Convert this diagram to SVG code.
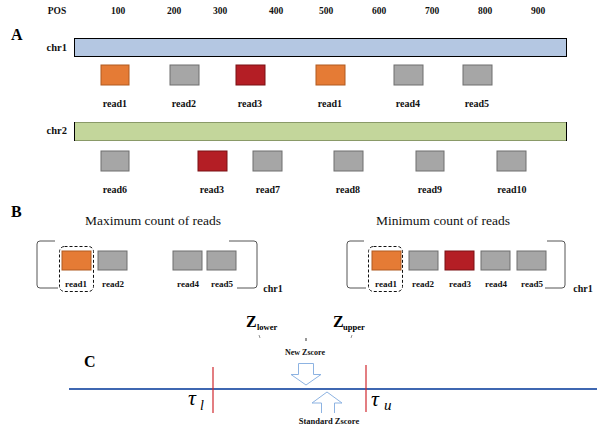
<svg xmlns="http://www.w3.org/2000/svg" width="607" height="433" viewBox="0 0 607 433">
<style>
text{font-family:"Liberation Serif","Times New Roman","DejaVu Serif",serif}
.lbl{font-weight:bold;font-size:10px;fill:#111;text-anchor:middle}
.pos{font-weight:bold;font-size:9.5px;fill:#111;text-anchor:middle}
.sec{font-weight:bold;font-size:16px;fill:#000}
.chr{font-weight:bold;font-size:10.5px;fill:#111;text-anchor:end}
.title{font-size:13.5px;fill:#111;text-anchor:middle}
.small{font-weight:bold;font-size:8.5px;fill:#111;text-anchor:middle}
.grey{fill:#A6A6A6;stroke:#6E6E6E;stroke-width:1}
.orange{fill:#E57B35;stroke:#B05A20;stroke-width:1}
.red{fill:#B41E25;stroke:#7A1015;stroke-width:1}
.brk{fill:none;stroke:#555;stroke-width:1}
.dash{fill:none;stroke:#111;stroke-width:1;stroke-dasharray:3,2}
.harrow{fill:#fff;stroke:#8DB3E2;stroke-width:1}
.math{fill:#000}
</style>

<g id="sectionA">
  <text class="sec" x="11" y="40">A</text>
  <text class="pos" x="57" y="14">POS</text>
  <text class="pos" x="118" y="14">100</text>
  <text class="pos" x="174" y="14">200</text>
  <text class="pos" x="220" y="14">300</text>
  <text class="pos" x="276" y="14">400</text>
  <text class="pos" x="326" y="14">500</text>
  <text class="pos" x="379" y="14">600</text>
  <text class="pos" x="432" y="14">700</text>
  <text class="pos" x="485" y="14">800</text>
  <text class="pos" x="538" y="14">900</text>
</g>

<g id="chr1">
  <text class="chr" x="67" y="51">chr1</text>
  <rect x="74.5" y="38.5" width="492" height="18" fill="#B4C7E2" stroke="#000" stroke-width="1"/>
</g>
<g id="chr1-reads">
  <rect class="orange" x="101" y="65" width="28" height="20"/>
  <rect class="grey" x="170" y="65" width="29" height="20"/>
  <rect class="red" x="236" y="65" width="29" height="20"/>
  <rect class="orange" x="316" y="65" width="29" height="20"/>
  <rect class="grey" x="394" y="65" width="29" height="20"/>
  <rect class="grey" x="463" y="65" width="29" height="20"/>
  <text class="lbl" x="115" y="107">read1</text>
  <text class="lbl" x="184" y="107">read2</text>
  <text class="lbl" x="250" y="107">read3</text>
  <text class="lbl" x="330" y="107">read1</text>
  <text class="lbl" x="408" y="107">read4</text>
  <text class="lbl" x="477" y="107">read5</text>
</g>

<g id="chr2">
  <text class="chr" x="67" y="134">chr2</text>
  <rect x="74.5" y="122.5" width="492" height="18" fill="#C3D69B" stroke="#8A9A68" stroke-width="1"/>
  <line x1="74.5" y1="122" x2="74.5" y2="141" stroke="#000"/>
  <line x1="566.5" y1="122" x2="566.5" y2="141" stroke="#000"/>
</g>
<g id="chr2-reads">
  <rect class="grey" x="101" y="151" width="28" height="20"/>
  <rect class="red" x="198" y="151" width="29" height="20"/>
  <rect class="grey" x="253" y="151" width="29" height="20"/>
  <rect class="grey" x="334" y="151" width="29" height="20"/>
  <rect class="grey" x="416" y="151" width="28" height="20"/>
  <rect class="grey" x="497" y="151" width="29" height="20"/>
  <text class="lbl" x="115" y="193">read6</text>
  <text class="lbl" x="212" y="193">read3</text>
  <text class="lbl" x="268" y="193">read7</text>
  <text class="lbl" x="348" y="193">read8</text>
  <text class="lbl" x="430" y="193">read9</text>
  <text class="lbl" x="512" y="193">read10</text>
</g>

<g id="sectionB-max">
  <text class="sec" x="11" y="217">B</text>
  <text class="title" x="153" y="225">Maximum count of reads</text>
  <path class="brk" d="M55,241 H40 Q37,241 37,244 V285 Q37,288 40,288 H58"/>
  <path class="brk" d="M229,241 H254 Q257,241 257,244 V285 Q257,288 254,288 H237"/>
  <rect class="dash" x="59.5" y="246.5" width="34" height="45" rx="5"/>
  <rect class="orange" x="62" y="251" width="29" height="19"/>
  <rect class="grey" x="98" y="251" width="29" height="19"/>
  <rect class="grey" x="173" y="251" width="29" height="19"/>
  <rect class="grey" x="207" y="251" width="29" height="19"/>
  <text class="lbl" x="76" y="287" style="font-size:9px">read1</text>
  <text class="lbl" x="113" y="287" style="font-size:9px">read2</text>
  <text class="lbl" x="188" y="287" style="font-size:9px">read4</text>
  <text class="lbl" x="222" y="287" style="font-size:9px">read5</text>
  <text class="lbl" x="273" y="292">chr1</text>
</g>

<g id="sectionB-min">
  <text class="title" x="443" y="225">Minimum count of reads</text>
  <path class="brk" d="M364,241 H350 Q347,241 347,244 V285 Q347,288 350,288 H366"/>
  <path class="brk" d="M547,241 H562 Q565,241 565,244 V285 Q565,288 562,288 H545"/>
  <rect class="dash" x="368.5" y="246.5" width="34" height="45" rx="5"/>
  <rect class="orange" x="372" y="251" width="29" height="19"/>
  <rect class="grey" x="409" y="251" width="29" height="19"/>
  <rect class="red" x="445" y="251" width="29" height="19"/>
  <rect class="grey" x="481" y="251" width="29" height="19"/>
  <rect class="grey" x="517" y="251" width="29" height="19"/>
  <text class="lbl" x="386" y="287" style="font-size:9px">read1</text>
  <text class="lbl" x="423" y="287" style="font-size:9px">read2</text>
  <text class="lbl" x="460" y="287" style="font-size:9px">read3</text>
  <text class="lbl" x="496" y="287" style="font-size:9px">read4</text>
  <text class="lbl" x="532" y="287" style="font-size:9px">read5</text>
  <text class="lbl" x="583" y="292">chr1</text>
</g>

<g id="sectionC">
  <text class="sec" x="84" y="367">C</text>
  <line x1="69" y1="389" x2="597" y2="389" stroke="#3F67B1" stroke-width="2.2"/>
  <line x1="213" y1="367" x2="213" y2="413" stroke="#D0282E" stroke-width="1.2"/>
  <line x1="366" y1="365" x2="366" y2="412" stroke="#D0282E" stroke-width="1.2"/>
  <text class="math" x="188" y="405" style="font-size:22px;font-style:italic">τ</text>
  <text class="math" x="200" y="410" style="font-size:14px;font-style:italic">l</text>
  <text class="math" x="371" y="406" style="font-size:22px;font-style:italic">τ</text>
  <text class="math" x="384" y="410" style="font-size:15px;font-style:italic">u</text>
  <text class="math" x="246" y="327" style="font-size:16px;font-weight:bold">Z</text>
  <text class="math" x="257" y="330" style="font-size:8.5px;font-weight:bold">lower</text>
  <text class="math" x="333" y="327" style="font-size:16px;font-weight:bold">Z</text>
  <text class="math" x="343" y="330" style="font-size:8.5px;font-weight:bold">upper</text>
  <line x1="259" y1="335" x2="260" y2="338" stroke="#777" stroke-width="0.8"/>
  <line x1="306" y1="338" x2="306" y2="341" stroke="#333" stroke-width="1"/>
  <line x1="351" y1="338" x2="352" y2="335" stroke="#777" stroke-width="0.8"/>
  <text class="small" x="305" y="355" style="font-size:8px">New Zscore</text>
  <path class="harrow" d="M298.5,363.5 H313.5 V374.5 H321 L306,385 L291,374.5 H298.5 Z"/>
  <path class="harrow" d="M321.5,413 V403 H312 L327,392 L342,403 H334.5 V413"/>
  <text class="small" x="329" y="424">Standard Zscore</text>
</g>
</svg>
